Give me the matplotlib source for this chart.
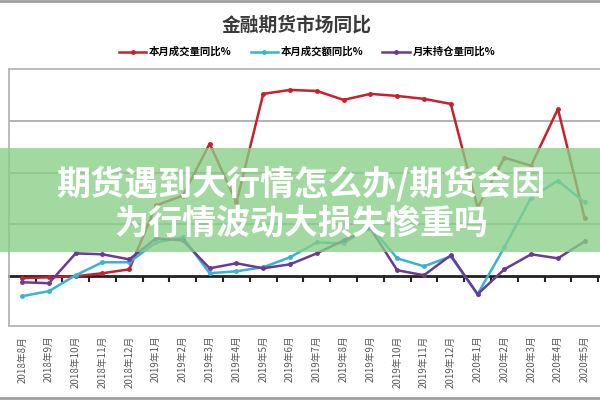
import matplotlib
matplotlib.use("Agg")
import matplotlib.pyplot as plt
from matplotlib.patches import Rectangle
from matplotlib.lines import Line2D
import numpy as np

plt.rcParams['font.family'] = ['Noto Sans CJK SC', 'DejaVu Sans']

months = ["2018年8月", "2018年9月", "2018年10月", "2018年11月", "2018年12月",
          "2019年1月", "2019年2月", "2019年3月", "2019年4月", "2019年5月", "2019年6月",
          "2019年7月", "2019年8月", "2019年9月", "2019年10月", "2019年11月", "2019年12月",
          "2020年1月", "2020年2月", "2020年3月", "2020年4月", "2020年5月"]

vol_yoy = [-1.9, -1.0, 0.0, 2.9, 6.7, 68.3, 77.9, 127.9, 71.2, 176.0, 179.8,
           178.8, 170.2, 176.0, 174.0, 171.2, 166.3, 66.3, 114.4, 106.7, 161.5, 55.8]
amt_yoy = [-19.2, -14.4, 1.0, 13.5, 13.5, 32.7, 37.5, 2.9, 4.8, 8.7, 18.3,
           32.7, 31.7, 48.1, 17.3, 9.6, 19.2, -17.3, 27.9, 76.0, 92.3, 71.2]
oi_yoy = [-5.8, -6.7, 22.1, 21.2, 16.3, 36.5, 34.6, 7.7, 12.5, 7.7, 11.5,
          22.1, 34.6, 46.2, 5.8, 1.0, 20.2, -17.3, 6.7, 21.2, 17.3, 33.7]

series_names = ["本月成交量同比%", "本月成交额同比%", "月末持仓量同比%"]
colors = ["#c8202c", "#35b4d6", "#6a3a96"]

title = "金融期货市场同比"
overlay_lines = ["期货遇到大行情怎么办/期货会因", "为行情波动大损失惨重吗"]

fig = plt.figure(figsize=(6, 4), dpi=100)
ax = fig.add_axes([9/600, 1-326/400, 1-9/600, (326-69)/400])

x = np.arange(len(months))
for vals, c, name in zip([vol_yoy, amt_yoy, oi_yoy], colors, series_names):
    ax.plot(x, vals, color=c, lw=1.8, marker='o', ms=2.5, label=name, zorder=3)

ax.set_xlim(-0.49, 21.57)
ax.set_ylim(-48, 200)
ax.set_yticks([50, 100, 150])
ax.yaxis.grid(True, color="#a6a6a6", lw=1.2)
ax.tick_params(axis='y', left=False, labelleft=False)
ax.set_xticks(x)
ax.set_xticklabels(months, rotation=90, fontsize=7, color="#595959")
ax.tick_params(axis='x', length=0, pad=7)
for s in ['left', 'bottom', 'top']:
    ax.spines[s].set_color("#b0b0b0")
    ax.spines[s].set_linewidth(1.2)
ax.spines['right'].set_visible(False)

# zero axis with category boundary ticks
sec = ax.secondary_xaxis(48/248)
sec.set_xticks(np.arange(-0.5, 22, 1))
sec.tick_params(axis='x', length=4, width=1.5, color='#222222', labelbottom=False, direction='out')
sec.spines['bottom'].set_color('#222222')
sec.spines['bottom'].set_linewidth(2)

fig.text(0.495, 1-25/400, title, ha='center', va='center', fontsize=13.5, fontweight='bold', color='#3a3a3a')

handles = [Line2D([0], [0], color=c, lw=1.8, marker='o', ms=2.5) for c in colors]
fig.legend(handles, series_names, loc='center', bbox_to_anchor=(0.512, 1-52/400), ncol=3,
           frameon=False, handlelength=2.6, handletextpad=0.3, columnspacing=1.8,
           prop={'weight': 'bold', 'size': 7.5})

# outer frame lines
fig.add_artist(Line2D([0, 1], [0.997, 0.997], transform=fig.transFigure, color='#a0a0a0', lw=2))
fig.add_artist(Line2D([0, 1], [0.006, 0.006], transform=fig.transFigure, color='#a0a0a0', lw=2))

# overlay band
band = Rectangle((0, 1-252/400), 1, 104/400, transform=fig.transFigure,
                 facecolor=(0.53, 0.81, 0.53), alpha=0.78, edgecolor='none', zorder=5)
fig.add_artist(band)
fig.text(0.502, 1-184/400, overlay_lines[0], ha='center', va='center', fontsize=24.5,
         fontweight='bold', color='white', zorder=6)
fig.text(0.502, 1-223/400, overlay_lines[1], ha='center', va='center', fontsize=24.5,
         fontweight='bold', color='white', zorder=6)

fig.savefig("out.png", dpi=100)
